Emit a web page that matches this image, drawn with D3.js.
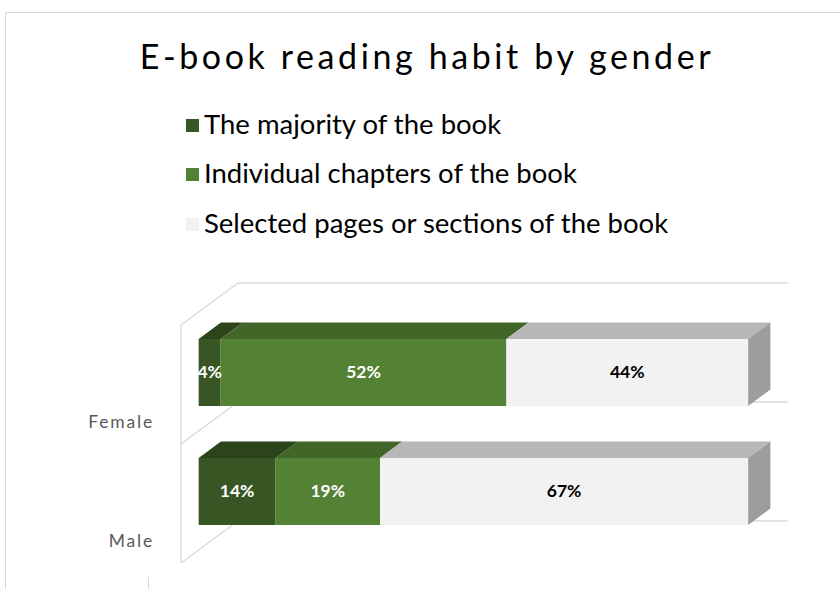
<!DOCTYPE html>
<html>
<head>
<meta charset="utf-8">
<script src="https://cdn.jsdelivr.net/npm/d3@7"></script>
<style>
  html, body { margin: 0; padding: 0; background: #fff; }
  svg { display: block; font-family: Lato, "Open Sans", sans-serif; }
</style>
</head>
<body>
<script>
// ---- data ----
const categories = ["Female", "Male"];
const seriesNames = ["The majority of the book", "Individual chapters of the book", "Selected pages or sections of the book"];
const majority = [0.04, 0.14];
const chapters = [0.52, 0.19];
const selected = [0.44, 0.67];
const titleText = "E-book reading habit by gender";

const W = 840, H = 589;
const svg = d3.select("body").append("svg").attr("width", W).attr("height", H);

// colours: front, top, side
const colors = [
  { front: "#375623", top: "#2b4419", side: "#2b4419", text: "#ffffff" },
  { front: "#548235", top: "#426628", side: "#426628", text: "#ffffff" },
  { front: "#f2f2f2", top: "#b7b7b7", side: "#9d9d9d", text: "#000000" }
];

// chart border
svg.append("path").attr("d", `M5.5,${H}V12.5H${W}`).attr("fill", "none").attr("stroke", "#d9d9d9").attr("stroke-width", 1);
svg.append("line").attr("x1", 148.5).attr("x2", 148.5).attr("y1", 577).attr("y2", H).attr("stroke", "#d9d9d9");

// title
svg.append("text").attr("x", 427).attr("y", 69).attr("text-anchor", "middle")
  .attr("font-size", 34).attr("letter-spacing", 3.6).attr("fill", "#000").text(titleText);

// legend
const legendY = [125, 174, 224];
seriesNames.forEach((name, i) => {
  svg.append("rect").attr("x", 186).attr("y", legendY[i] - 6).attr("width", 13).attr("height", 13).attr("fill", colors[i].front);
  svg.append("text").attr("x", 204).attr("y", legendY[i] + 9).attr("font-size", 27.5).attr("fill", "#000").text(name);
});

// 3D geometry
const frontX0 = 181, frontW = 549.5;
const wallDX = 57, wallDY = -42;      // full depth of the walls
const barT0 = 0.31, barT1 = 0.70;     // bar depth range (fraction of wall depth)
const x = d3.scaleLinear().domain([0, 1]).range([frontX0, frontX0 + frontW]);
const y = d3.scaleBand().domain(categories).range([325, 563]).paddingInner(0).paddingOuter(0);
const off = t => [wallDX * t, wallDY * t];

const grid = svg.append("g").attr("stroke", "#d9d9d9").attr("stroke-width", 1.3).attr("fill", "none");
const [bdx, bdy] = off(1);
// vertical left wall edge
grid.append("line").attr("x1", x(0)).attr("x2", x(0)).attr("y1", y.range()[0]).attr("y2", y.range()[1]);
const edges = [y.range()[0], ...categories.map(c => y(c) + y.bandwidth())];
edges.forEach(ey => {
  grid.append("line").attr("x1", x(0)).attr("y1", ey).attr("x2", x(0) + bdx).attr("y2", ey + bdy);
  grid.append("line").attr("x1", x(0) + bdx).attr("y1", ey + bdy).attr("x2", x(1) + bdx).attr("y2", ey + bdy);
});

// bars
const [fdx, fdy] = off(barT0);
const [kdx, kdy] = off(barT1);
const dx = kdx - fdx, dy = kdy - fdy;
const series = [majority, chapters, selected];
const barG = svg.append("g");
categories.forEach((cat, ci) => {
  const bw = y.bandwidth();
  const top = y(cat) + fdy + 0.227 * bw;
  const bot = top + 0.563 * bw;
  let cum = 0;
  const segs = series.map((s, si) => {
    const seg = { si, v: s[ci], x0: x(cum) + fdx, x1: x(cum + s[ci]) + fdx };
    cum += s[ci];
    return seg;
  });
  segs.forEach(sg => {
    const c = colors[sg.si];
    barG.append("polygon")
      .attr("points", [[sg.x0, top], [sg.x1, top], [sg.x1 + dx, top + dy], [sg.x0 + dx, top + dy]].map(p => p.join(",")).join(" "))
      .attr("fill", c.top);
    barG.append("rect").attr("x", sg.x0).attr("y", top).attr("width", sg.x1 - sg.x0).attr("height", bot - top).attr("fill", c.front);
  });
  const last = segs[segs.length - 1];
  barG.append("polygon")
    .attr("points", [[last.x1, top], [last.x1 + dx, top + dy], [last.x1 + dx, bot + dy], [last.x1, bot]].map(p => p.join(",")).join(" "))
    .attr("fill", colors[last.si].side);
  segs.forEach(sg => {
    barG.append("text").attr("x", (sg.x0 + sg.x1) / 2).attr("y", (top + bot) / 2 + 6)
      .attr("text-anchor", "middle").attr("font-size", 17.5).attr("font-weight", "bold")
      .attr("fill", colors[sg.si].text).text(Math.round(sg.v * 100) + "%");
  });
  // category label
  svg.append("text").attr("x", 154).attr("y", ci === 0 ? 428 : 547).attr("text-anchor", "end")
    .attr("font-size", 17.5).attr("letter-spacing", 1.8).attr("fill", "#595959").text(cat);
});
</script>
</body>
</html>
